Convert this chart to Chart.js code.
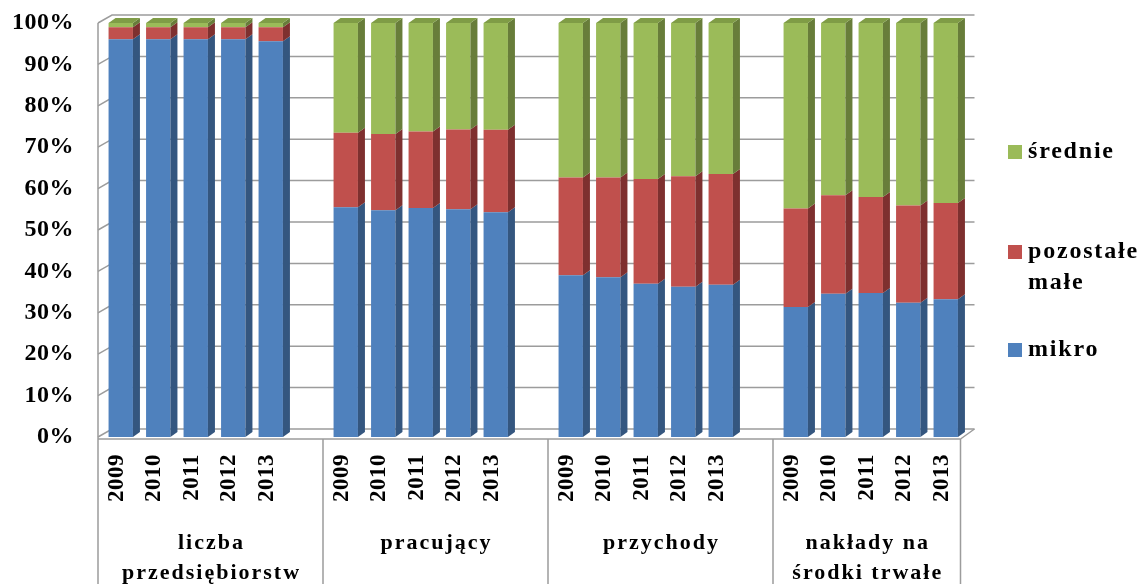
<!DOCTYPE html>
<html>
<head>
<meta charset="utf-8">
<script src="https://cdn.jsdelivr.net/npm/chart.js@4.4.1/dist/chart.umd.min.js"></script>
<style>
  html, body { margin: 0; padding: 0; background: #fff; }
  canvas { display: block; }
</style>
</head>
<body>
<canvas id="chart" width="1140" height="584"></canvas>
<script>
// lata w każdej grupie
const years = ['2009', '2010', '2011', '2012', '2013'];
// nazwy grup (drugi poziom osi)
const groups = [
  ['liczba', 'przedsiębiorstw'],
  ['pracujący'],
  ['przychody'],
  ['nakłady na', 'środki trwałe']
];

// udziały w % — kolejno: liczba, pracujący, przychody, nakłady (po 5 lat)
const mikro = [
  96.1, 96.1, 96.1, 96.1, 95.6,
  55.5, 54.8, 55.3, 55.0, 54.3,
  39.1, 38.6, 37.0, 36.3, 36.8,
  31.4, 34.6, 34.8, 32.4, 33.3
];
const pozostaleMale = [
  2.9, 2.9, 2.9, 2.9, 3.4,
  18.0, 18.4, 18.5, 19.3, 19.9,
  23.6, 24.1, 25.3, 26.7, 26.7,
  23.8, 23.8, 23.2, 23.5, 23.2
];
const srednie = [
  1.0, 1.0, 1.0, 1.0, 1.0,
  26.5, 26.8, 26.2, 25.7, 25.8,
  37.3, 37.3, 37.7, 37.0, 36.5,
  44.8, 41.6, 42.0, 44.1, 43.5
];

const FONT = '"Liberation Serif", "Times New Roman", serif';

// etykiety osi z pustym miejscem między grupami
function buildLabels() {
  const out = [];
  groups.forEach((g, gi) => {
    years.forEach(y => out.push(y));
    if (gi < groups.length - 1) out.push('');
  });
  return out;
}

function withGaps(values) {
  const out = [];
  groups.forEach((g, gi) => {
    for (let i = 0; i < years.length; i++) out.push(values[gi * years.length + i]);
    if (gi < groups.length - 1) out.push(null);
  });
  return out;
}

// głębia ścian i słupków (efekt 3D)
const DX = 14, DY = -8;
const BDX = 7, BDY = -5;
const SHIFT = 4;

const bars3d = {
  id: 'bars3d',
  beforeDraw(chart) {
    chart.ctx.letterSpacing = '0.5px';
  },
  beforeDatasetsDraw(chart) {
    const ctx = chart.ctx;
    const a = chart.chartArea;
    const y = chart.scales.y;
    ctx.save();
    ctx.strokeStyle = '#9c9c9c';
    ctx.lineWidth = 1.5;
    y.ticks.forEach(t => {
      const py = y.getPixelForValue(t.value);
      ctx.beginPath();
      ctx.moveTo(a.left, py);
      ctx.lineTo(a.left + DX, py + DY);
      ctx.lineTo(a.right + DX, py + DY);
      ctx.stroke();
    });
    ctx.beginPath();
    ctx.moveTo(a.left, a.top);
    ctx.lineTo(a.left, a.bottom + 2);
    ctx.moveTo(a.right, a.bottom + 2);
    ctx.lineTo(a.right + DX, a.bottom + DY);
    ctx.stroke();
    ctx.restore();
    // słupki przesunięte jak w widoku 3D
    ctx.save();
    ctx.translate(SHIFT, 0);
  },
  afterDatasetsDraw(chart) {
    const ctx = chart.ctx;
    const n = chart.data.datasets.length;
    chart.data.datasets.forEach((ds, i) => {
      const meta = chart.getDatasetMeta(i);
      meta.data.forEach((bar, j) => {
        if (ds.data[j] == null) return;
        const p = bar.getProps(['x', 'y', 'base', 'width'], true);
        const xl = p.x - p.width / 2, xr = p.x + p.width / 2;
        ctx.fillStyle = ds.sideColor;
        ctx.beginPath();
        ctx.moveTo(xr, p.y);
        ctx.lineTo(xr + BDX, p.y + BDY);
        ctx.lineTo(xr + BDX, p.base + BDY);
        ctx.lineTo(xr, p.base);
        ctx.closePath();
        ctx.fill();
        if (i === n - 1) {
          ctx.fillStyle = ds.topColor;
          ctx.beginPath();
          ctx.moveTo(xl, p.y);
          ctx.lineTo(xl + BDX, p.y + BDY);
          ctx.lineTo(xr + BDX, p.y + BDY);
          ctx.lineTo(xr, p.y);
          ctx.closePath();
          ctx.fill();
        }
      });
    });
    ctx.restore();
  },
  afterDraw(chart) {
    const ctx = chart.ctx;
    const a = chart.chartArea;
    const x = chart.scales.x;
    const slot = x.getPixelForValue(1) - x.getPixelForValue(0);
    ctx.save();
    // linie tabeli pod osią
    ctx.strokeStyle = '#9c9c9c';
    ctx.lineWidth = 1.5;
    ctx.beginPath();
    ctx.moveTo(a.left, a.bottom + 2);
    ctx.lineTo(a.right, a.bottom + 2);
    let idx = 0;
    const bounds = [a.left];
    groups.forEach((g, gi) => {
      idx += years.length + (gi < groups.length - 1 ? 1 : 0);
      bounds.push(gi < groups.length - 1 ? x.getPixelForValue(idx) - slot / 2 : a.right);
    });
    bounds.forEach(bx => {
      ctx.moveTo(bx, a.bottom + 2);
      ctx.lineTo(bx, chart.height);
    });
    ctx.stroke();
    // nazwy grup
    ctx.letterSpacing = '2px';
    ctx.fillStyle = '#000';
    ctx.font = 'bold 22px ' + FONT;
    ctx.textAlign = 'center';
    ctx.textBaseline = 'middle';
    groups.forEach((g, gi) => {
      const cx = (bounds[gi] + bounds[gi + 1]) / 2;
      g.forEach((line, li) => ctx.fillText(line, cx + 1, 543 + li * 30));
    });
    // legenda
    const legendY = [152, 252, 350];
    const order = chart.data.datasets.slice().reverse();
    ctx.letterSpacing = '1.8px';
    ctx.font = 'bold 24px ' + FONT;
    ctx.textAlign = 'left';
    order.forEach((ds, k) => {
      const ly = legendY[k];
      ctx.fillStyle = ds.backgroundColor;
      ctx.fillRect(1008, ly - 7, 14, 14);
      ctx.fillStyle = '#000';
      const lines = Array.isArray(ds.label) ? ds.label : [ds.label];
      lines.forEach((t, li) => ctx.fillText(t, 1028, ly + li * 31));
    });
    ctx.restore();
  }
};

new Chart(document.getElementById('chart'), {
  type: 'bar',
  data: {
    labels: buildLabels(),
    datasets: [
      { label: 'mikro', data: withGaps(mikro), backgroundColor: '#4f81bd', sideColor: '#34567f', topColor: '#46719f' },
      { label: ['pozostałe', 'małe'], data: withGaps(pozostaleMale), backgroundColor: '#c0504d', sideColor: '#7e302f', topColor: '#a04341' },
      { label: 'średnie', data: withGaps(srednie), backgroundColor: '#9bbb59', sideColor: '#687d3a', topColor: '#7f9c46' }
    ]
  },
  options: {
    responsive: false,
    animation: false,
    layout: { padding: { left: 0, top: 23, right: 179.5, bottom: 0 } },
    datasets: { bar: { categoryPercentage: 1, barPercentage: 0.65, borderWidth: 0 } },
    plugins: { legend: { display: false }, tooltip: { enabled: false } },
    scales: {
      x: {
        stacked: true,
        grid: { display: false, drawTicks: false },
        border: { display: false },
        ticks: {
          autoSkip: false, minRotation: 90, maxRotation: 90, padding: 17,
          color: '#000', font: { family: FONT, size: 23, weight: 'bold' }
        },
        afterFit(s) { s.height = 147; s.paddingLeft = 0; s.paddingRight = 0; }
      },
      y: {
        stacked: true, min: 0, max: 100,
        grid: { display: false, drawTicks: false },
        border: { display: false },
        ticks: {
          stepSize: 10, padding: 24, color: '#000',
          font: { family: FONT, size: 24, weight: 'bold' },
          callback: v => v + '%'
        },
        afterFit(s) { s.width = 98; s.paddingTop = 0; s.paddingBottom = 0; }
      }
    }
  },
  plugins: [bars3d]
});
</script>
</body>
</html>
